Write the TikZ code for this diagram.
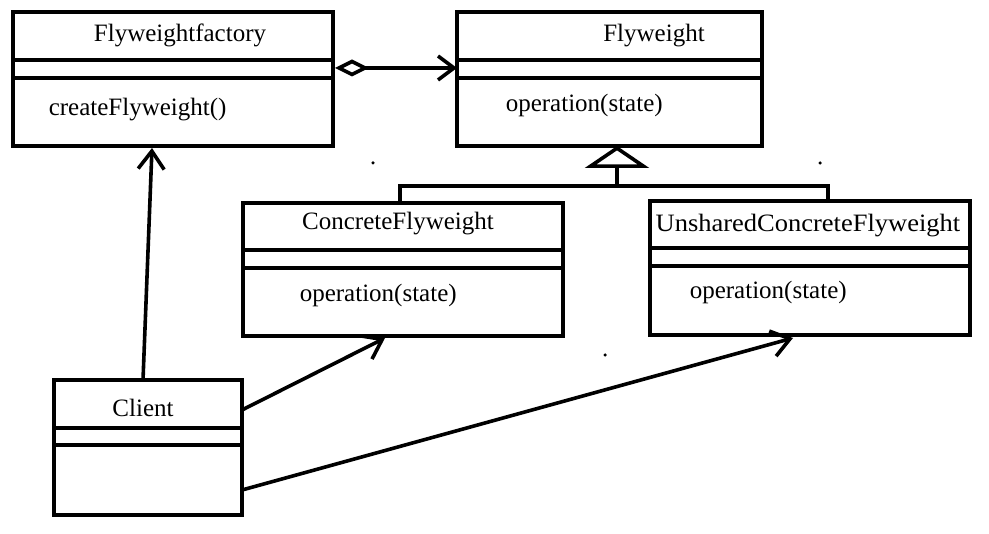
\documentclass[tikz,border=0pt]{standalone}
\usepackage{fontspec}
\setmainfont{Liberation Serif}
\usetikzlibrary{arrows.meta,calc}
\begin{document}
\begin{tikzpicture}[x=1pt,y=-1pt,line width=3.6pt,
  box/.style={draw,line width=3.6pt,inner sep=0pt,outer sep=0pt},
  lbl/.style={font=\fontsize{25}{30}\selectfont,inner sep=0pt},
  sep/.style={line width=3.6pt},
  open/.style={-{Straight Barb[length=18pt,width=26pt,line width=3.6pt]}},
  dotm/.style={circle,fill=black,inner sep=0pt,minimum size=3.5pt}]
\useasboundingbox (0,0) rectangle (989,534);
% class boxes
\node[box,minimum width=320pt,minimum height=134pt] (ff) at (173,79) {};
\node[box,minimum width=305pt,minimum height=134pt] (fw) at (609.5,79) {};
\node[box,minimum width=320pt,minimum height=133pt] (cf) at (403,269.5) {};
\node[box,minimum width=320pt,minimum height=134pt] (ucf) at (810,268) {};
\node[box,minimum width=188pt,minimum height=135pt] (cl) at (148,447.5) {};
% separators
\foreach \b/\a/\c in {ff/48/66, fw/48/66, cf/47/65, ucf/47/65, cl/48/65}{
  \draw[sep] ($(\b.north west)+(0,\a)$) -- ($(\b.north east)+(0,\a)$);
  \draw[sep] ($(\b.north west)+(0,\c)$) -- ($(\b.north east)+(0,\c)$);
}
% texts
\node[lbl] (fft) at (180,35) {Flyweightfactory};
\node[lbl,anchor=west] (ffo) at (47,110) {createFlyweight()};
\node[lbl] (fwt) at (654,36) {Flyweight};
\node[lbl,anchor=west] (fwo) at (504,105) {operation(state)};
\node[lbl] (cft) at (398,224) {ConcreteFlyweight};
\node[lbl,anchor=west] (cfo) at (298,295) {operation(state)};
\node[lbl,xscale=1.06] (ucft) at (808,226) {UnsharedConcreteFlyweight};
\node[lbl,anchor=west] (ucfo) at (688,292) {operation(state)};
\node[lbl] (clt) at (143,408) {Client};
% aggregation
\coordinate (aggS) at (335,68);
\coordinate (aggE) at (457,68);
\draw[{Diamond[open,length=34pt,width=17pt,line width=3.6pt]}-{Straight Barb[length=16pt,width=24pt,line width=3.6pt]}] (aggS) -- (aggE);
% inheritance
\coordinate (stem) at (617,186);
\coordinate (apex) at (617,146);
\draw[-{Triangle[open,length=22pt,width=64pt,line width=3.6pt]}] (stem) -- (apex);
\coordinate (cfj) at (400,186);
\coordinate (ucfj) at (828,186);
\draw (cf.north -| cfj) -- (cfj) -- (ucfj) -- (ucf.north -| ucfj);
% associations
\coordinate (c1) at (143,380);
\coordinate (c2) at (242,410);
\coordinate (c3) at (242,490);
\coordinate (t1) at (152,148);
\coordinate (t2) at (385,338);
\coordinate (t3) at (793,338);
\draw[open] (cl.north -| c1) -- (t1);
\draw[open] (c2) -- (t2);
\draw[open] (c3) -- (t3);
% stray dots
\node[dotm] (d1) at (373,163) {};
\node[dotm] (d2) at (820,163) {};
\node[dotm] (d3) at (605,355) {};
\end{tikzpicture}
\end{document}
